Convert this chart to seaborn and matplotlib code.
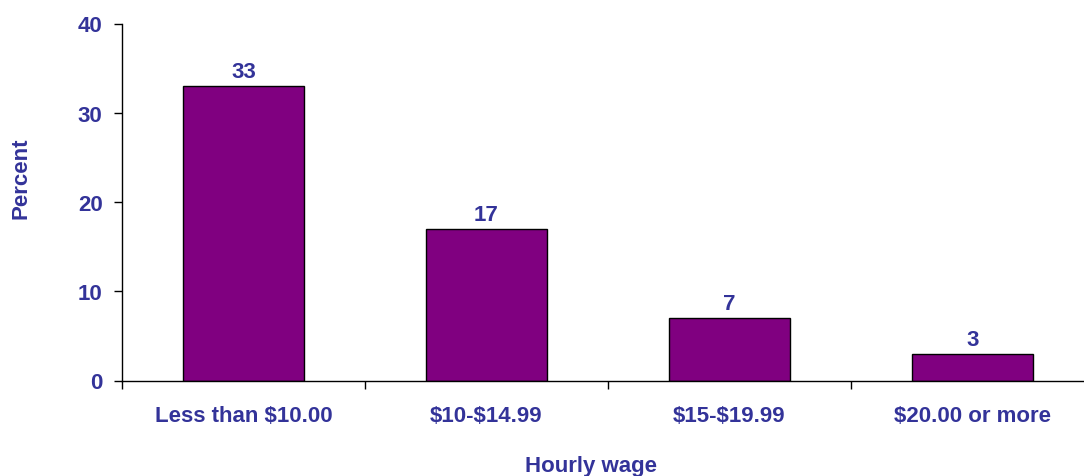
import matplotlib
matplotlib.use("Agg")
import matplotlib.pyplot as plt
import seaborn as sns
import pandas as pd
from matplotlib.ticker import FixedLocator

# ======================================================
# DATA
# ======================================================
wage_groups = ["Less than $10.00", "$10-$14.99", "$15-$19.99", "$20.00 or more"]
percent = [33, 17, 7, 3]
y_ticks = [0, 10, 20, 30, 40]

df = pd.DataFrame({"wage": wage_groups, "percent": percent})

TEXT = "#333399"
BAR = "#800080"
FS = 16

sns.set_style("white")
plt.rcParams["font.family"] = ["Liberation Sans", "DejaVu Sans"]
plt.rcParams["font.weight"] = "bold"
plt.rcParams["text.parse_math"] = False

fig = plt.figure(figsize=(10.84, 4.77), dpi=100)
ax = fig.add_axes([122 / 1084, 1 - 381.5 / 477, 972 / 1084, 357 / 477])

sns.barplot(data=df, x="wage", y="percent", color=BAR, edgecolor="black",
            linewidth=1, width=0.5, saturation=1, ax=ax)

ax.set_xlim(-0.5, 3.5)
ax.set_ylim(0, 40)
ax.set_yticks(y_ticks)

# value labels
for i, v in enumerate(percent):
    ax.text(i, v + 0.45, f"{v}", ha="center", va="bottom", color=TEXT,
            fontsize=FS, fontweight="bold")

# spines & ticks
for s in ["top", "right"]:
    ax.spines[s].set_visible(False)
for s in ["left", "bottom"]:
    ax.spines[s].set_color("black")
    ax.spines[s].set_linewidth(1)

ax.tick_params(axis="y", direction="out", length=6, width=1, color="black",
               labelsize=FS, labelcolor=TEXT, pad=8, left=True)
ax.tick_params(axis="x", which="major", length=0, labelsize=FS,
               labelcolor=TEXT, pad=18)
ax.xaxis.set_minor_locator(FixedLocator([-0.5, 0.5, 1.5, 2.5, 3.5]))
ax.tick_params(axis="x", which="minor", direction="out", length=6, width=1,
               color="black", bottom=True)
for lab in ax.get_xticklabels() + ax.get_yticklabels():
    lab.set_fontweight("bold")

ax.set_xlabel("")
ax.set_ylabel("")
fig.text(21.5 / 1084, 1 - 178 / 477, "Percent", rotation=90, ha="center",
         va="center", color=TEXT, fontsize=FS, fontweight="bold")
fig.text(591 / 1084, 1 - 467 / 477, "Hourly wage", ha="center", va="center",
         color=TEXT, fontsize=FS, fontweight="bold")

fig.savefig("out.png", dpi=100)
